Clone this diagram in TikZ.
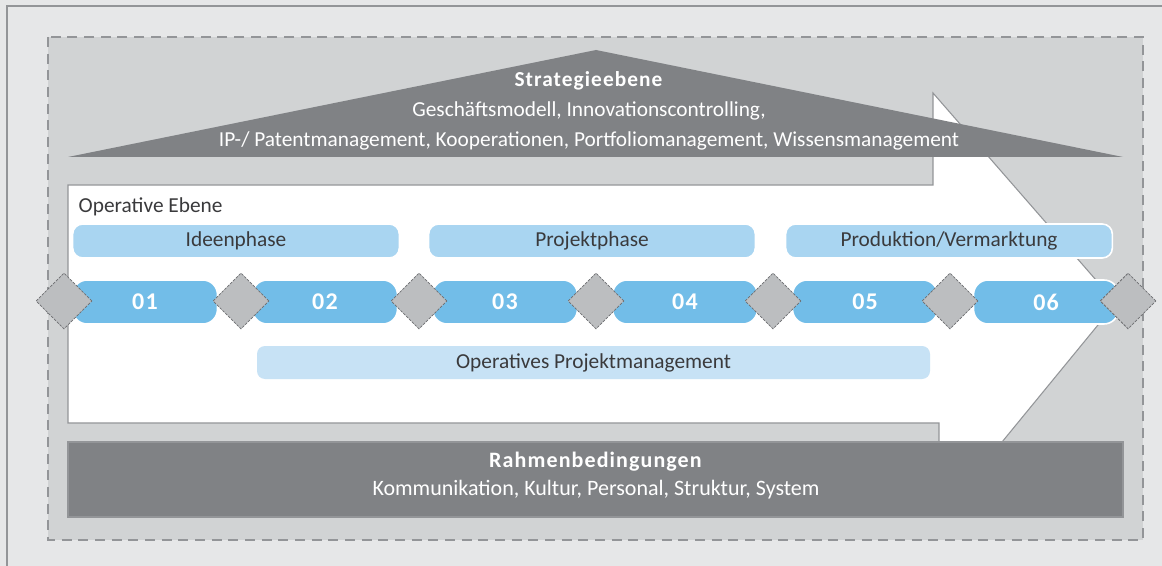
\documentclass[tikz,border=0pt]{standalone}
\usepackage{fontspec}
\setmainfont{Carlito}[BoldFeatures={LetterSpace=5}]
\usetikzlibrary{shapes.geometric}

\definecolor{outergray}{HTML}{E6E7E8}
\definecolor{innergray}{HTML}{D1D3D4}
\definecolor{roofgray}{HTML}{808285}
\definecolor{linegray}{HTML}{939598}
\definecolor{phaseblue}{HTML}{A9D5F1}
\definecolor{stepblue}{HTML}{72BDE8}
\definecolor{pmblue}{HTML}{C7E2F5}
\definecolor{gategray}{HTML}{BCBEC0}
\definecolor{gatedash}{HTML}{6D6E71}
\definecolor{textgray}{HTML}{3A3A3C}

\begin{document}
\begin{tikzpicture}[
            x = 0.75pt, y = -0.75pt, % one unit = one pixel, y downwards
            every node/.style = {font=\fontsize{16}{21}\selectfont, text=textgray},
            phase/.style = {fill=phaseblue, draw=white, line width=1.2pt,
                rounded corners=7.5pt, minimum width=245pt, minimum height=25.5pt, inner sep=0pt},
            stepbox/.style = {fill=stepblue, draw=white, line width=1.2pt,
                rounded corners=11pt, minimum width=108.75pt, minimum height=33pt, inner sep=0pt,
                text=white, font=\fontsize{18}{20}\selectfont\bfseries},
            gate/.style = {diamond, aspect=1, fill=gategray, draw=gatedash,
                dash pattern=on 2pt off 1pt, line width=0.6pt, minimum size=42pt, inner sep=0pt},
            band/.style = {fill=roofgray, text=white, align=center},
            hull/.style = {draw=linegray, line width=0.8pt} % arrow outline
        ]

	\useasboundingbox (0,0) rectangle (1162,566);

	% background and frame
	\fill[outergray] (0,0) rectangle (1162,566);
	\draw[linegray, line width=0.8pt] (7,566) -- (7,6) -- (1162,6);
	\draw[linegray, fill=innergray, line width=1.9pt, dash pattern=on 7.5pt off 5pt]
		(48,37) rectangle (1143,540);

	% operative arrow
	\draw[hull, fill=white] (68,185) -- (933,185) -- (933,93) -- (1116,303) -- (1002,442)
		-- (939,442) -- (939,423) -- (68,423) -- cycle;

	% roof
	\fill[roofgray] (68,157) -- (596,50) -- (1123,157) -- cycle;
	\node[text=white, align=center, font=\fontsize{16}{22.5}\selectfont] (strat) at (589,110.5)
		{\textbf{Strategieebene}\\Geschäftsmodell, Innovationscontrolling,\\
		 IP-/ Patentmanagement, Kooperationen, Portfoliomanagement, Wissensmanagement};

	% frame conditions
	\node[band, draw=linegray, line width=0.8pt, minimum width=791.25pt, minimum height=56.25pt,
		font=\fontsize{16.5}{21}\selectfont] (rahmen) at (595.5,479.5) {};
	\node[text=white, align=center, font=\fontsize{16.5}{21}\selectfont] (rtext) at (596,476)
		{\textbf{Rahmenbedingungen}\\Kommunikation, Kultur, Personal, Struktur, System};

	\node[anchor=base west] (oper) at (74,213) {Operative Ebene};

	% phases
	\node[phase] (p1) at (236,241) {Ideenphase};
	\node[phase] (p2) at (592,241) {Projektphase};
	\node[phase] (p3) at (949,241) {Produktion/Vermarktung};

	% steps
	\node[stepbox] (s1) at (145,302) {01};
	\node[stepbox] (s2) at (325,302) {02};
	\node[stepbox] (s3) at (505,302) {03};
	\node[stepbox] (s4) at (685,302) {04};
	\node[stepbox] (s5) at (865,302) {05};
	\node[stepbox] (s6) at (1046,302) {06};

	% gates
	\node[gate] (g0) at (64,301) {};
	\node[gate] (g1) at (241,301) {};
	\node[gate] (g2) at (419,301) {};
	\node[gate] (g3) at (596,301) {};
	\node[gate] (g4) at (773,301) {};
	\node[gate] (g5) at (950,301) {};
	\node[gate] (g6) at (1128,301) {};

	\node[fill=pmblue, rounded corners=6pt, minimum width=504.75pt, minimum height=24.75pt,
		inner sep=0pt] (pm) at (593.5,362.5) {Operatives Projektmanagement};

\end{tikzpicture}
\end{document}
